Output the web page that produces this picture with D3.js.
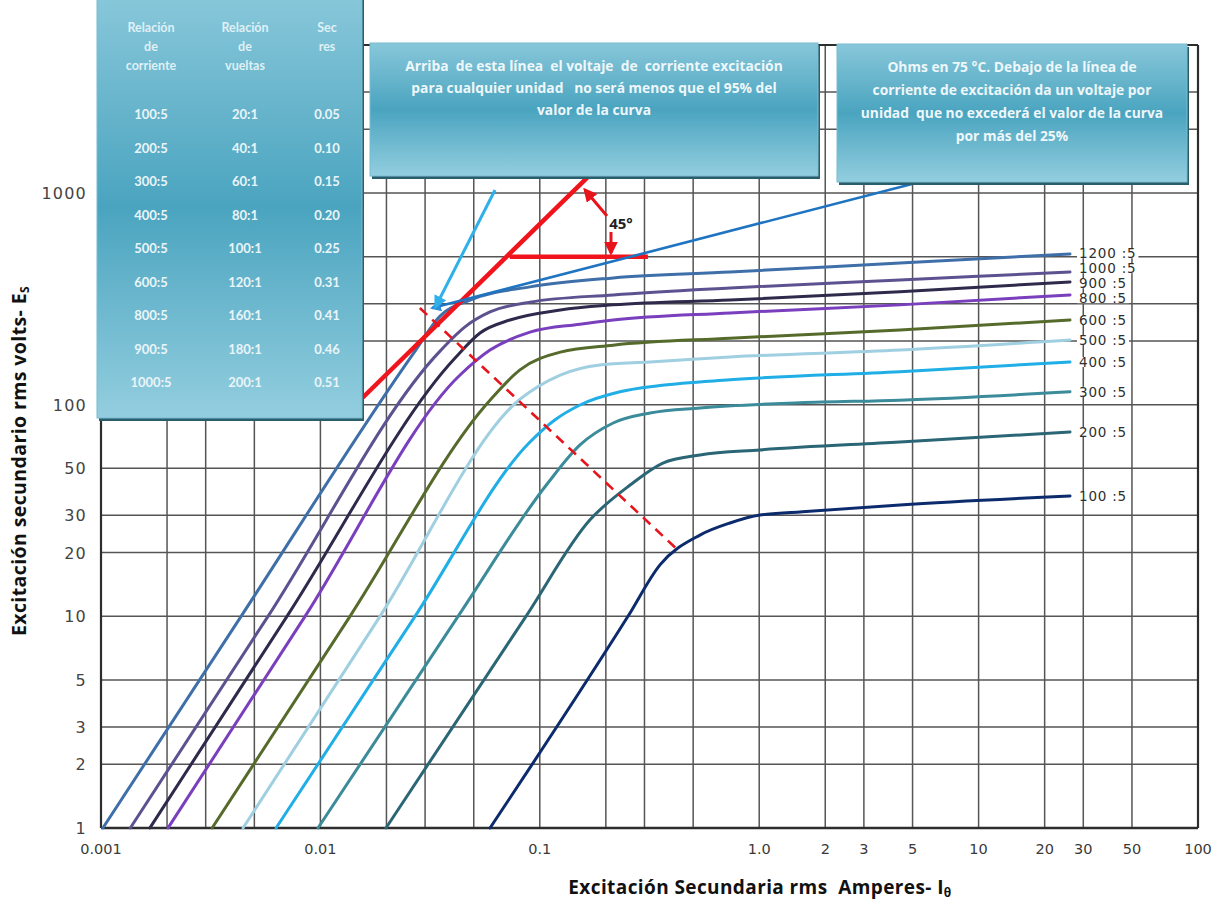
<!DOCTYPE html>
<html>
<head>
<meta charset="utf-8">
<script src="https://cdn.jsdelivr.net/npm/d3@7"></script>
<style>
  body { margin: 0; background: #fff; }
  svg { display: block; }
</style>
</head>
<body>
<svg width="1227" height="904"></svg>
<script>
'use strict'

// excitation curves, [secondary amps, secondary volts]
var c1200 = [[0.00102, 1], [0.00435, 10], [0.0270, 179], [0.0351, 262], [0.0481, 312], [0.0902, 360], [0.216, 397], [0.736, 423], [4.38, 467], [26.1, 515]]
var c1000 = [[0.00136, 1], [0.00577, 10], [0.0351, 179], [0.0456, 233], [0.0593, 274], [0.0902, 305], [0.216, 330], [0.736, 356], [4.38, 388], [26.1, 423]]
var c900 = [[0.00167, 1], [0.00704, 10], [0.0411, 166], [0.0534, 218], [0.0731, 251], [0.124, 280], [0.216, 296], [0.736, 312], [4.38, 341], [26.1, 380]]
var c800 = [[0.00202, 1], [0.00851, 10], [0.0433, 138], [0.0593, 181], [0.0902, 220], [0.1525, 240], [0.216, 251], [0.736, 271], [4.38, 296], [26.1, 330]]
var c600 = [[0.00321, 1], [0.01364, 10], [0.0593, 105], [0.0812, 146], [0.124, 177], [0.216, 191], [0.736, 206], [4.38, 225], [26.1, 251]]
var c500 = [[0.00444, 1], [0.01869, 10], [0.0812, 106], [0.124, 138], [0.188, 154], [0.318, 159], [0.736, 168], [4.38, 181], [26.1, 202]]
var c400 = [[0.00628, 1], [0.0270, 10], [0.0902, 66.6], [0.117, 84.6], [0.1525, 99.6], [0.232, 115], [0.353, 123], [0.736, 131], [4.38, 143], [26.1, 159]]
var c300 = [[0.00975, 1], [0.0424, 10], [0.108, 42.2], [0.1525, 64.5], [0.216, 81.9], [0.318, 91.3], [0.537, 96.4], [1.53, 102], [4.38, 105], [26.1, 115]]
var c200 = [[0.0199, 1], [0.0865, 10], [0.169, 28.5], [0.258, 41.7], [0.364, 53.0], [0.537, 57.8], [1.008, 61.1], [4.38, 66.6], [26.1, 74.3]]
var c100 = [[0.0593, 1], [0.2523, 10], [0.353, 17.5], [0.537, 24.2], [0.736, 27.6], [1.008, 30.1], [1.53, 31.1], [4.38, 33.6], [26.1, 37.0]]

var series = [c1200, c1000, c900, c800, c600, c500, c400, c300, c200, c100]
var ratios = ['1200 :5', '1000 :5', '900 :5', '800 :5', '600 :5', '500 :5', '400 :5', '300 :5', '200 :5', '100 :5']
var colours = ['#3f6fa8', '#5d5190', '#2e2a4c', '#7a3fbd', '#566a2c', '#9fcfe0', '#20aee6', '#3b8b9b', '#2b6676', '#0c2b6d']

// ticks
var xTicks = [0.001, 0.01, 0.1, 1, 2, 3, 5, 10, 20, 30, 50, 100]
var xTickText = ['0.001', '0.01', '0.1', '1.0', '2', '3', '5', '10', '20', '30', '50', '100']
var yTicks = [1, 2, 3, 5, 10, 20, 30, 50, 100, 1000]

// table in the upper left
var tableHead = [['Relación', 'de', 'corriente'], ['Relación', 'de', 'vueltas'], ['Sec', 'res']]
var tableRatio = ['100:5', '200:5', '300:5', '400:5', '500:5', '600:5', '800:5', '900:5', '1000:5']
var tableTurns = ['20:1', '40:1', '60:1', '80:1', '100:1', '120:1', '160:1', '180:1', '200:1']
var tableRes = ['0.05', '0.10', '0.15', '0.20', '0.25', '0.31', '0.41', '0.46', '0.51']

var noteAbove = ['Arriba  de esta línea  el voltaje  de  corriente excitación', 'para cualquier unidad   no será menos que el 95% del', 'valor de la curva']
var noteBelow = ['Ohms en 75 °C. Debajo de la línea de', 'corriente de excitación da un voltaje por', 'unidad  que no excederá el valor de la curva', 'por más del 25%']

// annotation geometry in data units
var kneeLine = [[0.0144, 99.6], [0.169, 1215]]
var kneeFoot = [[0.073, 500], [0.311, 500]]
var kneeDash = [[0.0284, 286], [0.436, 20.1]]
var pointerBlue = [[4.97, 1103], [0.0323, 286]]
var pointerCyan = [[0.0625, 1033], [0.0335, 290]]
var angleUp = [[0.2024, 778], [0.1607, 1033]]
var angleDown = [[0.2111, 654], [0.2111, 521]]
var angleText = [0.2344, 676]

var svg = d3.select('svg'),
  width = +svg.attr('width'),
  height = +svg.attr('height')

svg.append('rect').attr('width', width).attr('height', height).attr('fill', '#fff')

var x = d3.scaleLog().domain([0.001, 100]).range([101, 1198])
var y = d3.scaleLog().domain([1, 5000]).range([828, 45])

var defs = svg.append('defs')

var grad = defs.append('linearGradient')
  .attr('id', 'boxFill')
  .attr('x1', 0).attr('y1', 0).attr('x2', 0).attr('y2', 1)
grad.append('stop').attr('offset', '0%').attr('stop-color', '#88c7da')
grad.append('stop').attr('offset', '50%').attr('stop-color', '#4aa4bf')
grad.append('stop').attr('offset', '100%').attr('stop-color', '#93cedf')

function arrowMarker(id, colour, size) {
  defs.append('marker')
    .attr('id', id)
    .attr('viewBox', '0 0 10 10')
    .attr('refX', 8).attr('refY', 5)
    .attr('markerWidth', size).attr('markerHeight', size)
    .attr('orient', 'auto')
    .append('path')
    .attr('d', 'M0,0 L10,5 L0,10 z')
    .attr('fill', colour)
}
arrowMarker('arRed', '#e8141c', 4.6)
arrowMarker('arBlue', '#2a8fd6', 4.2)
arrowMarker('arCyan', '#2fb0ea', 4.4)

// grid lines on 1-2-3-5 steps
var keep = [1, 2, 3, 5]
function gridValues(scale) {
  return scale.ticks().filter(function(v) {
    var lead = Math.round(v / Math.pow(10, Math.floor(Math.log10(v) + 1e-9)))
    return keep.indexOf(lead) >= 0
  })
}

var grid = svg.append('g').attr('class', 'grid')
  .attr('stroke', '#555').attr('stroke-width', 1.5)

grid.selectAll('line.v')
  .data(gridValues(x))
  .enter().append('line')
  .attr('class', 'v')
  .attr('x1', function(d) { return x(d) })
  .attr('x2', function(d) { return x(d) })
  .attr('y1', y(5000))
  .attr('y2', y(1))

grid.selectAll('line.h')
  .data(gridValues(y))
  .enter().append('line')
  .attr('class', 'h')
  .attr('x1', x(0.001))
  .attr('x2', x(100))
  .attr('y1', function(d) { return y(d) })
  .attr('y2', function(d) { return y(d) })

// frame
svg.append('line').attr('x1', x(0.001)).attr('x2', x(100)).attr('y1', y(1)).attr('y2', y(1))
  .attr('stroke', '#2d2d2d').attr('stroke-width', 2.6)
svg.append('line').attr('x1', x(0.001)).attr('x2', x(0.001)).attr('y1', y(1)).attr('y2', y(5000))
  .attr('stroke', '#2d2d2d').attr('stroke-width', 2.2)
svg.append('line').attr('x1', x(100)).attr('x2', x(100)).attr('y1', y(1)).attr('y2', y(5000))
  .attr('stroke', '#2d2d2d').attr('stroke-width', 2.2)
svg.append('line').attr('x1', x(0.001)).attr('x2', x(100)).attr('y1', y(5000)).attr('y2', y(5000))
  .attr('stroke', '#2d2d2d').attr('stroke-width', 2.2)

// tick labels
svg.append('g').selectAll('text')
  .data(xTicks)
  .enter().append('text')
  .attr('x', function(d) { return x(d) })
  .attr('y', 854)
  .attr('text-anchor', 'middle')
  .attr('font-family', 'DejaVu Sans, sans-serif')
  .attr('font-size', 14.5)
  .attr('fill', '#3a3a3a')
  .text(function(d, i) { return xTickText[i] })

svg.append('g').selectAll('text')
  .data(yTicks)
  .enter().append('text')
  .attr('x', 87)
  .attr('y', function(d) { return y(d) + 6 })
  .attr('text-anchor', 'end')
  .attr('font-family', 'DejaVu Sans, sans-serif')
  .attr('font-size', 16)
  .attr('letter-spacing', 1.2)
  .attr('fill', '#444')
  .text(function(d) { return d })

// curves
var line = d3.line()
  .x(function(d) { return x(d[0]) })
  .y(function(d) { return y(d[1]) })
  .curve(d3.curveMonotoneX)

svg.append('g').selectAll('path')
  .data(series)
  .enter().append('path')
  .attr('d', line)
  .attr('fill', 'none')
  .attr('stroke', function(d, i) { return colours[i] })
  .attr('stroke-width', 3)
  .attr('stroke-linecap', 'round')

// curve labels at the curve ends, nudged apart where they crowd
var labelY = series.map(function(s) { return y(s[s.length - 1][1]) })
var gap = 15
for (var k = 0; k < 40; k++) {
  for (var i = 1; i < labelY.length; i++) {
    var d = labelY[i] - labelY[i - 1]
    if (d < gap) {
      labelY[i - 1] -= (gap - d) / 2
      labelY[i] += (gap - d) / 2
    }
  }
}

var labels = svg.append('g')
series.forEach(function(s, i) {
  var last = s[s.length - 1]
  var t = labels.append('text')
    .attr('x', x(last[0]) + 9)
    .attr('y', labelY[i] + 5)
    .attr('font-family', 'DejaVu Sans, sans-serif')
    .attr('font-size', 13.5)
    .attr('letter-spacing', 0.8)
    .attr('fill', '#2e2e2e')
    .style('white-space', 'pre')
    .text(ratios[i])
  var b = t.node().getBBox()
  labels.insert('rect', 'text')
    .attr('x', b.x - 2).attr('y', b.y + 3)
    .attr('width', b.width + 4).attr('height', b.height - 6)
    .attr('fill', '#fff')
})

// red 45 degree construction
var straight = d3.line().x(function(d) { return x(d[0]) }).y(function(d) { return y(d[1]) })

svg.append('path').datum(kneeLine).attr('d', straight)
  .attr('stroke', '#f0141c').attr('stroke-width', 4.5).attr('fill', 'none')
svg.append('path').datum(kneeFoot).attr('d', straight)
  .attr('stroke', '#f0141c').attr('stroke-width', 4.5).attr('fill', 'none')
svg.append('path').datum(kneeDash).attr('d', straight)
  .attr('stroke', '#e8141c').attr('stroke-width', 2.6).attr('stroke-dasharray', '10,7').attr('fill', 'none')

svg.append('path').datum(angleUp).attr('d', straight)
  .attr('stroke', '#e8141c').attr('stroke-width', 3).attr('fill', 'none').attr('marker-end', 'url(#arRed)')
svg.append('path').datum(angleDown).attr('d', straight)
  .attr('stroke', '#e8141c').attr('stroke-width', 3).attr('fill', 'none').attr('marker-end', 'url(#arRed)')
svg.append('text')
  .attr('x', x(angleText[0])).attr('y', y(angleText[1]))
  .attr('text-anchor', 'middle')
  .attr('font-family', 'Open Sans, sans-serif').attr('font-weight', 'bold').attr('font-size', 15)
  .attr('fill', '#222')
  .text('45°')

// pointers from the notes
svg.append('path').datum(pointerBlue).attr('d', straight)
  .attr('stroke', '#1f74c2').attr('stroke-width', 2.6).attr('fill', 'none').attr('marker-end', 'url(#arBlue)')
svg.append('path').datum(pointerCyan).attr('d', straight)
  .attr('stroke', '#2fb0ea').attr('stroke-width', 3).attr('fill', 'none').attr('marker-end', 'url(#arCyan)')

// boxes
function box(bx, by, bw, bh) {
  var g = svg.append('g')
  g.append('rect').attr('x', bx + 2).attr('y', by + 3).attr('width', bw).attr('height', bh).attr('fill', '#2a5e6d')
  g.append('rect').attr('x', bx).attr('y', by).attr('width', bw).attr('height', bh)
    .attr('fill', 'url(#boxFill)').attr('stroke', '#78bcd0').attr('stroke-width', 1)
  return g
}

function boxText(g, lines, cx, top, step) {
  g.selectAll('text.n')
    .data(lines)
    .enter().append('text')
    .attr('class', 'n')
    .attr('x', cx)
    .attr('y', function(d, i) { return top + i * step })
    .attr('text-anchor', 'middle')
    .attr('font-family', 'Open Sans, sans-serif')
    .attr('font-weight', 'bold')
    .attr('font-size', 13.8)
    .attr('fill', '#eef7fa')
    .style('white-space', 'pre')
    .text(function(d) { return d })
}

var b2 = box(370, 43, 448, 133)
boxText(b2, noteAbove, 594, 71, 22)

var b3 = box(837, 44, 350, 138)
boxText(b3, noteBelow, 1012, 72, 23)

var tb = box(97, -4, 265, 422)
var colX = [151, 245, 327]
tableHead.forEach(function(h, c) {
  tb.selectAll('text.h' + c)
    .data(h)
    .enter().append('text')
    .attr('x', colX[c])
    .attr('y', function(d, i) { return 32 + i * 19 })
    .attr('text-anchor', 'middle')
    .attr('font-family', 'Lato, sans-serif').attr('font-weight', 'bold').attr('font-size', 12.5)
    .attr('fill', '#dff0f6')
    .text(function(d) { return d })
})

var rowY = d3.scalePoint().domain(d3.range(tableRatio.length)).range([119, 387])
;[tableRatio, tableTurns, tableRes].forEach(function(col, c) {
  tb.selectAll('text.c' + c)
    .data(col)
    .enter().append('text')
    .attr('x', colX[c])
    .attr('y', function(d, i) { return rowY(i) })
    .attr('text-anchor', 'middle')
    .attr('font-family', 'Lato, sans-serif').attr('font-weight', 'bold').attr('font-size', 13)
    .attr('fill', '#eaf5f9')
    .text(function(d) { return d })
})

// axis titles
var yt = svg.append('text')
  .attr('transform', 'translate(26,461) rotate(-90)')
  .attr('text-anchor', 'middle')
  .attr('font-family', 'Open Sans, sans-serif').attr('font-weight', 'bold').attr('font-size', 19.5)
  .attr('letter-spacing', 0.4)
  .attr('fill', '#111')
yt.append('tspan').text('Excitación secundario rms volts- E')
yt.append('tspan').attr('font-size', 12).attr('dy', 3).text('S')

var xt = svg.append('text')
  .attr('x', 760).attr('y', 894)
  .attr('text-anchor', 'middle')
  .attr('font-family', 'Open Sans, sans-serif').attr('font-weight', 'bold').attr('font-size', 19)
  .attr('letter-spacing', 0.4)
  .attr('fill', '#111')
  .style('white-space', 'pre')
xt.append('tspan').text('Excitación Secundaria rms  Amperes- I')
xt.append('tspan').attr('font-size', 12).attr('dy', 3).text('θ')
</script>
</body>
</html>
